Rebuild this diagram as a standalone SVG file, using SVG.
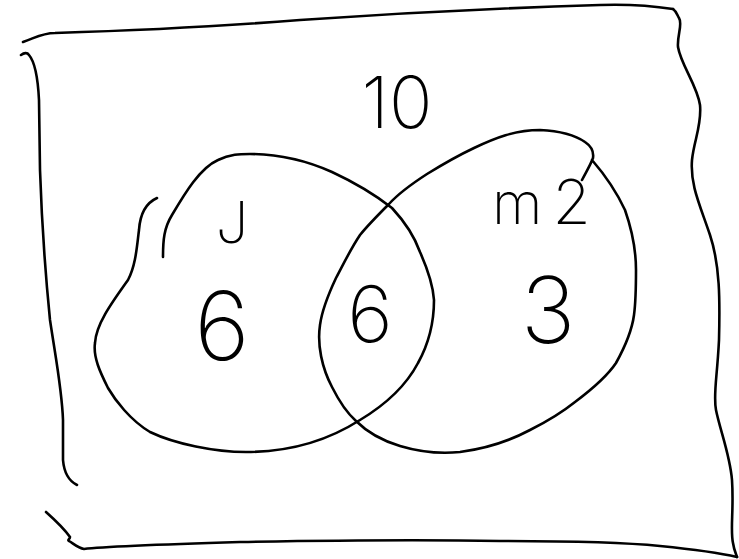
<svg xmlns="http://www.w3.org/2000/svg" width="739" height="559" viewBox="0 0 739 559">
  <style>
    .pen { fill: none; stroke: #000; stroke-width: 2.6; stroke-linecap: round; stroke-linejoin: round; }
    .hand { font-family: Inter, "Liberation Sans", sans-serif; font-weight: 200; fill: #000; }
  </style>
  <rect width="739" height="559" fill="#fff"/>
  <g id="universe">
    <path class="pen" d="M23,42 C35,38 42,33 55,33 C120,31 200,28 300,20 C400,13 500,8 600,5 C630,4 660,7 673,9"/>
    <path class="pen" d="M673,9 C677,12 677,15 679,18 C683,24 677,35 678,47 C681,65 697,85 700,105 C702,125 694,140 692,160 C690,185 700,205 710,235 C720,265 720,300 719,340 C717,380 713,395 716,410 C720,430 730,455 732,480 C734,510 730,530 733,543 C734,550 736,554 737,557"/>
    <path class="pen" d="M46,512 C55,520 65,530 70,537 C70,539 67,540 69,541 C74,544 78,548 84,549 C100,547 140,545 240,542 C350,540 450,540 500,541 C560,541 620,542 660,546 C690,549 720,553 737,557"/>
    <path class="pen" d="M21,55 C24,53 27,52 29,55 C35,62 38,80 39,100 L40,170 C42,230 46,280 50,320 C56,360 62,390 63,420 L63,460 C64,472 69,481 77,485"/>
    <text class="hand" x="397" y="128" font-size="72" text-anchor="middle">10</text>
  </g>
  <g id="set-j">
    <path class="pen" d="M163,257 C163,240 164,228 172,215 C185,193 200,168 218,160 C230,154 240,154 250,154 C275,154 305,160 332,172 C360,185 378,197 392,208 C405,222 415,238 420,252 C428,270 433,285 434,300 C434,325 428,345 418,363 C408,382 390,402 360,420 C335,436 300,452 246,452 C215,452 175,444 150,432 C130,420 115,400 108,388 C100,372 93,357 95,343 C96,325 110,305 128,280 C136,265 137,245 139,230 C140,215 146,203 157,198"/>
    <text class="hand" x="232" y="243" font-size="58" text-anchor="middle">J</text>
    <text class="hand" x="222" y="360" font-size="95" text-anchor="middle">6</text>
  </g>
  <g id="set-m2">
    <path class="pen" d="M582,180 C586,172 590,166 593,158 C594,151 591,146 585,142 C575,135 560,131 540,130 C515,130 495,138 474,148 C455,157 440,166 427,174 C410,185 398,194 389,204 C378,215 368,225 360,235 C350,250 343,265 336,278 C328,295 322,310 320,325 C317,345 322,368 332,387 C340,403 347,413 356,421 C365,430 380,440 400,446 C420,452 440,454 460,452 C490,448 515,438 530,430 C550,420 565,410 575,402 C595,387 608,375 616,363 C626,345 632,330 634,315 C636,300 636,285 636,270 C636,250 632,230 625,210 C618,195 605,175 592,160"/>
    <text class="hand" x="492" y="224" font-size="58">m<tspan dx="10" font-size="62">2</tspan></text>
    <text class="hand" x="548" y="343" font-size="92" text-anchor="middle">3</text>
  </g>
  <g id="intersection">
    <text class="hand" x="370" y="342" font-size="78" text-anchor="middle">6</text>
  </g>
</svg>
